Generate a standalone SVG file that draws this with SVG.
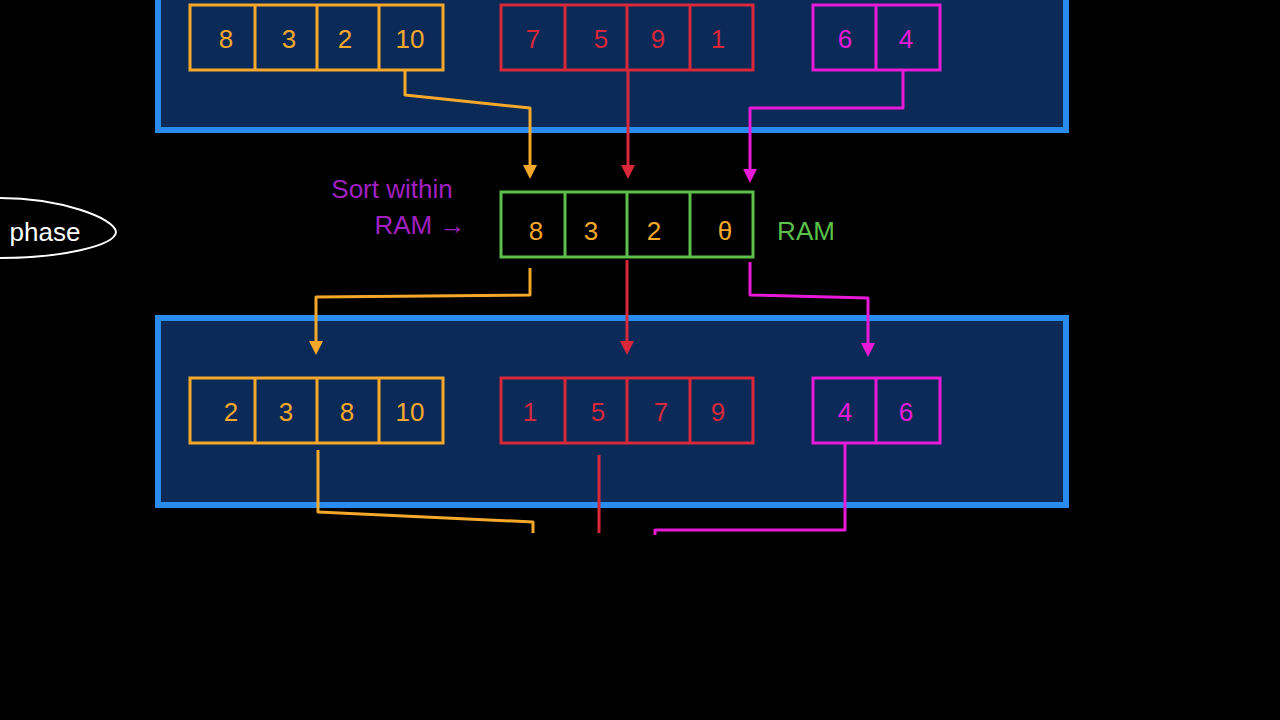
<svg xmlns="http://www.w3.org/2000/svg" width="1280" height="720" viewBox="0 0 1280 720">
<style>
.panel{fill:#0b2a58;stroke:#2a8cf0;stroke-width:6}
.cell{fill:none;stroke-width:3}
.o{stroke:#f5a82a}.r{stroke:#d8283a}.m{stroke:#e81ad8}.g{stroke:#5cc04a}
.t{font-family:"Liberation Sans",sans-serif;font-size:26px;text-anchor:middle}
.to{fill:#f5a82a}.tr{fill:#d8283a}.tm{fill:#e81ad8}
.c{fill:none;stroke-width:3;stroke-linejoin:round}
</style>
<defs>
<marker id="ao" markerUnits="userSpaceOnUse" markerWidth="14" markerHeight="14" refX="7" refY="7" orient="auto"><path d="M0,0L14,7L0,14z" fill="#f5a82a"/></marker>
<marker id="ar" markerUnits="userSpaceOnUse" markerWidth="14" markerHeight="14" refX="7" refY="7" orient="auto"><path d="M0,0L14,7L0,14z" fill="#d8283a"/></marker>
<marker id="am" markerUnits="userSpaceOnUse" markerWidth="14" markerHeight="14" refX="7" refY="7" orient="auto"><path d="M0,0L14,7L0,14z" fill="#e81ad8"/></marker>
</defs>
<rect width="1280" height="720" fill="#000"/>
<rect class="panel" x="158" y="-10" width="908" height="140"/>
<rect class="panel" x="158" y="318" width="908" height="187"/>
<g id="top-orange"><rect class="cell o" x="190" y="5" width="253" height="65"/><path class="cell o" d="M255,5V70M317,5V70M379,5V70"/>
<text class="t to" x="226" y="48">8</text><text class="t to" x="289" y="48">3</text><text class="t to" x="345" y="48">2</text><text class="t to" x="410" y="48">10</text></g>
<g id="top-red"><rect class="cell r" x="501" y="5" width="252" height="65"/><path class="cell r" d="M565,5V70M627,5V70M690,5V70"/>
<text class="t tr" x="533" y="48">7</text><text class="t tr" x="601" y="48">5</text><text class="t tr" x="658" y="48">9</text><text class="t tr" x="718" y="48">1</text></g>
<g id="top-magenta"><rect class="cell m" x="813" y="5" width="127" height="65"/><path class="cell m" d="M876,5V70"/>
<text class="t tm" x="845" y="48">6</text><text class="t tm" x="906" y="48">4</text></g>
<g id="ram"><rect class="cell g" x="501" y="192" width="252" height="65"/><path class="cell g" d="M565,192V257M627,192V257M690,192V257"/>
<text class="t to" x="536" y="240">8</text><text class="t to" x="591" y="240">3</text><text class="t to" x="654" y="240">2</text><text class="t to" x="725" y="240">θ</text>
<text class="t" x="806" y="240" fill="#5cc04a">RAM</text></g>
<g id="note"><text class="t" x="392" y="198" fill="#a020c0" font-size="20">Sort within</text><text class="t" x="420" y="234" fill="#a020c0">RAM  →</text></g>
<g id="phase"><path d="M0,198C60,198 115,218 116,232C115,246 60,258 0,258" fill="none" stroke="#fff" stroke-width="2"/><text class="t" x="45" y="241" fill="#fff" font-size="22">phase</text></g>
<g id="bot-orange"><rect class="cell o" x="190" y="378" width="253" height="65"/><path class="cell o" d="M255,378V443M317,378V443M379,378V443"/>
<text class="t to" x="231" y="421">2</text><text class="t to" x="286" y="421">3</text><text class="t to" x="347" y="421">8</text><text class="t to" x="410" y="421">10</text></g>
<g id="bot-red"><rect class="cell r" x="501" y="378" width="252" height="65"/><path class="cell r" d="M565,378V443M627,378V443M690,378V443"/>
<text class="t tr" x="530" y="421">1</text><text class="t tr" x="598" y="421">5</text><text class="t tr" x="661" y="421">7</text><text class="t tr" x="718" y="421">9</text></g>
<g id="bot-magenta"><rect class="cell m" x="813" y="378" width="127" height="65"/><path class="cell m" d="M876,378V443"/>
<text class="t tm" x="845" y="421">4</text><text class="t tm" x="906" y="421">6</text></g>
<g id="connectors">
<path class="c o" d="M405,70V95L530,108V172" marker-end="url(#ao)"/>
<path class="c r" d="M628,70V172" marker-end="url(#ar)"/>
<path class="c m" d="M903,70V108H750V176" marker-end="url(#am)"/>
<path class="c o" d="M530,268V295L316,297V348" marker-end="url(#ao)"/>
<path class="c r" d="M627,260V348" marker-end="url(#ar)"/>
<path class="c m" d="M750,262V295L868,298V350" marker-end="url(#am)"/>
<path class="c o" d="M318,450V512L533,522V533"/>
<path class="c r" d="M599,455V533"/>
<path class="c m" d="M845,443V530H655V535"/>
</g>
</svg>
